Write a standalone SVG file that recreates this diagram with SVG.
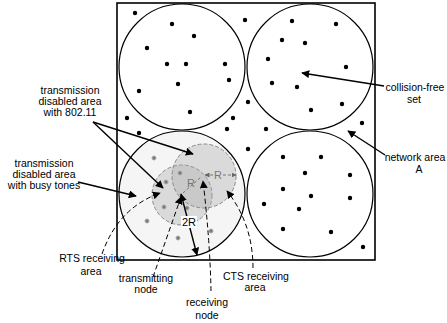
<svg xmlns="http://www.w3.org/2000/svg" width="447" height="323" viewBox="0 0 447 323">
<defs>
<style>
text{font-family:"Liberation Sans",Arial,sans-serif;font-size:10.5px;fill:#000}
.lbl{text-anchor:middle}
.big{fill:none;stroke:#000;stroke-width:1.2}
.dot{fill:#000}
.gdot{fill:#777;stroke:#aaa;stroke-width:1}
.sm{fill:#a8a8a8;fill-opacity:0.35;stroke:#8a8a8a;stroke-width:1;stroke-dasharray:4,2}
.sol{fill:none;stroke:#000;stroke-width:1.4}
.dsh{fill:none;stroke:#000;stroke-width:1;stroke-dasharray:5,3}
.rl{fill:none;stroke:#777;stroke-width:1;stroke-dasharray:3,2}
.gt{fill:#777;font-size:11px;text-anchor:middle}
</style>
<marker id="ah" viewBox="0 0 10 10" refX="9" refY="5" markerWidth="8" markerHeight="8" markerUnits="userSpaceOnUse" orient="auto-start-reverse">
<path d="M0,0 L10,5 L0,10 z" fill="#000"/>
</marker>
<marker id="gh" viewBox="0 0 10 10" refX="9" refY="5" markerWidth="5" markerHeight="5" markerUnits="userSpaceOnUse" orient="auto-start-reverse">
<path d="M0,0 L10,5 L0,10 z" fill="#666"/>
</marker>
</defs>
<rect width="447" height="323" fill="#fff"/>
<g id="network-area">
<rect x="117" y="3" width="258" height="257" fill="none" stroke="#000" stroke-width="1.6"/>
</g>
<g id="set-top-left"><circle class="big" cx="182" cy="67" r="63"/></g>
<g id="set-top-right"><circle class="big" cx="310" cy="67" r="63"/></g>
<g id="set-bottom-right"><circle class="big" cx="310" cy="194" r="63"/></g>
<g id="set-bottom-left"><circle cx="182" cy="194" r="63" fill="#f5f5f5" stroke="#000" stroke-width="1.2"/></g>
<g id="rts-area"><circle class="sm" cx="182" cy="195" r="30"/></g>
<g id="cts-area"><circle class="sm" cx="204" cy="176" r="32"/></g>
<g id="nodes">
<circle class="dot" cx="135" cy="13" r="2.2"/><circle class="dot" cx="172" cy="24" r="2.2"/><circle class="dot" cx="194" cy="36" r="2.2"/><circle class="dot" cx="147" cy="48" r="2.2"/><circle class="dot" cx="167" cy="64" r="2.2"/><circle class="dot" cx="186" cy="64" r="2.2"/><circle class="dot" cx="225" cy="64" r="2.2"/><circle class="dot" cx="229" cy="80" r="2.2"/><circle class="dot" cx="178" cy="84" r="2.2"/><circle class="dot" cx="139" cy="91" r="2.2"/><circle class="dot" cx="190" cy="112" r="2.2"/><circle class="dot" cx="127" cy="118" r="2.2"/><circle class="dot" cx="233" cy="118" r="2.2"/><circle class="dot" cx="227" cy="129" r="2.2"/><circle class="dot" cx="139" cy="133" r="2.2"/><circle class="dot" cx="245" cy="20" r="2.2"/>
<circle class="dot" cx="292" cy="21" r="2.2"/><circle class="dot" cx="336" cy="24" r="2.2"/><circle class="dot" cx="282" cy="40" r="2.2"/><circle class="dot" cx="305" cy="43" r="2.2"/><circle class="dot" cx="268" cy="59" r="2.2"/><circle class="dot" cx="346" cy="67" r="2.2"/><circle class="dot" cx="272" cy="83" r="2.2"/><circle class="dot" cx="297" cy="87" r="2.2"/><circle class="dot" cx="311" cy="110" r="2.2"/><circle class="dot" cx="342" cy="104" r="2.2"/><circle class="dot" cx="362" cy="123" r="2.2"/><circle class="dot" cx="248" cy="102" r="2.2"/><circle class="dot" cx="266" cy="129" r="2.2"/><circle class="dot" cx="248" cy="149" r="2.2"/>
<circle class="dot" cx="283" cy="157" r="2.2"/><circle class="dot" cx="321" cy="157" r="2.2"/><circle class="dot" cx="305" cy="173" r="2.2"/><circle class="dot" cx="350" cy="175" r="2.2"/><circle class="dot" cx="283" cy="189" r="2.2"/><circle class="dot" cx="311" cy="196" r="2.2"/><circle class="dot" cx="350" cy="198" r="2.2"/><circle class="dot" cx="264" cy="204" r="2.2"/><circle class="dot" cx="299" cy="209" r="2.2"/><circle class="dot" cx="283" cy="229" r="2.2"/><circle class="dot" cx="331" cy="232" r="2.2"/><circle class="dot" cx="363" cy="247" r="2.2"/>
<circle class="gdot" cx="154" cy="158" r="2"/><circle class="gdot" cx="180" cy="173" r="2"/><circle class="gdot" cx="166" cy="182" r="2"/><circle class="gdot" cx="164" cy="207" r="2"/><circle class="gdot" cx="187" cy="208" r="2"/><circle class="gdot" cx="147" cy="221" r="2"/><circle class="gdot" cx="211" cy="231" r="2"/><circle class="gdot" cx="178" cy="238" r="2"/>
</g>
<g id="radius-marks">
<line class="rl" x1="183" y1="193" x2="201" y2="177"/>
<line class="rl" x1="205" y1="175" x2="213" y2="175" marker-start="url(#gh)"/>
<line class="rl" x1="223" y1="175" x2="236" y2="175" marker-end="url(#gh)"/>
<text class="gt" x="218" y="179">R</text>
<text class="gt" x="191" y="187">R</text>
</g>
<g id="connectors">
<line class="sol" x1="93" y1="122" x2="193" y2="154" marker-end="url(#ah)"/>
<line class="sol" x1="93" y1="122" x2="163" y2="188" marker-end="url(#ah)"/>
<line class="sol" x1="78" y1="182" x2="136" y2="196" marker-end="url(#ah)"/>
<line class="sol" x1="384" y1="86" x2="302" y2="73" marker-end="url(#ah)"/>
<line class="sol" x1="385" y1="155" x2="348" y2="131" marker-end="url(#ah)"/>
<line class="sol" x1="181" y1="194" x2="197" y2="255" marker-start="url(#ah)" marker-end="url(#ah)"/>
<path class="dsh" d="M102,254 Q118,208 160,193" marker-end="url(#ah)"/>
<path class="dsh" d="M153,277 L181,197" marker-end="url(#ah)"/>
<path class="dsh" d="M211,291 Q210,240 203,181" marker-end="url(#ah)"/>
<path class="dsh" d="M253,268 C253,235 242,210 227,191" marker-end="url(#ah)"/>
</g>
<g id="label-2R">
<rect x="181" y="216" width="16" height="12" fill="#fff"/>
<text class="lbl" x="189" y="226" style="font-size:11px">2R</text>
</g>
<g id="label-80211">
<text class="lbl" x="70" y="94">transmission</text>
<text class="lbl" x="70" y="105">disabled area</text>
<text class="lbl" x="70" y="116">with 802.11</text>
</g>
<g id="label-busy">
<text class="lbl" x="44" y="167">transmission</text>
<text class="lbl" x="44" y="178">disabled area</text>
<text class="lbl" x="44" y="189">with busy tones</text>
</g>
<g id="label-cfs">
<text class="lbl" x="415" y="91">collision-free</text>
<text class="lbl" x="414" y="103">set</text>
</g>
<g id="label-network">
<text class="lbl" x="415" y="161">network area</text>
<text class="lbl" x="419" y="173">A</text>
</g>
<g id="label-rts">
<text class="lbl" x="92" y="262">RTS receiving</text>
<text class="lbl" x="91" y="275">area</text>
</g>
<g id="label-tx">
<text class="lbl" x="146" y="282">transmitting</text>
<text class="lbl" x="146" y="293">node</text>
</g>
<g id="label-rx">
<text class="lbl" x="207" y="306">receiving</text>
<text class="lbl" x="207" y="319">node</text>
</g>
<g id="label-cts">
<text class="lbl" x="256" y="280">CTS receiving</text>
<text class="lbl" x="255" y="291">area</text>
</g>
</svg>
